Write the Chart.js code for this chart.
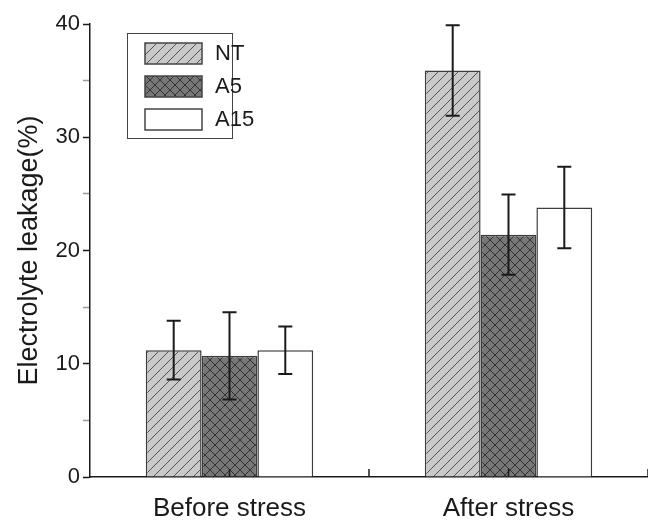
<!DOCTYPE html>
<html>
<head>
<meta charset="utf-8">
<script src="https://cdn.jsdelivr.net/npm/chart.js@4/dist/chart.umd.min.js"></script>
<style>
  html, body { margin: 0; padding: 0; background: #fff; }
  #wrap { width: 648px; height: 520px; }
</style>
</head>
<body>
<div id="wrap"><canvas id="leakChart"></canvas></div>
<script>
const categories = ['Before stress', 'After stress'];
const seriesNames = ['NT', 'A5', 'A15'];
const ntValues = [11.2, 35.9];
const ntErrors = [2.6, 4.0];
const a5Values = [10.7, 21.4];
const a5Errors = [3.85, 3.55];
const a15Values = [11.2, 23.8];
const a15Errors = [2.1, 3.6];
const yTicks = [0, 10, 20, 30, 40];

const FONT = '"Liberation Sans", Arial, sans-serif';
const INK = '#1a1a1a';

function makePattern(fill, line, cross){
    const c = document.createElement('canvas');
    c.width = 10; c.height = 10;
    const g = c.getContext('2d');
    g.fillStyle = fill;
    g.fillRect(0, 0, 10, 10);
    g.strokeStyle = line;
    g.lineWidth = 1;
    g.beginPath();
    g.moveTo(-1, 11); g.lineTo(11, -1);
    g.moveTo(-1, 1); g.lineTo(1, -1);
    g.moveTo(9, 11); g.lineTo(11, 9);
    if(cross){
        g.moveTo(-1, -1); g.lineTo(11, 11);
        g.moveTo(-1, 9); g.lineTo(1, 11);
        g.moveTo(9, -1); g.lineTo(11, 1);
    }
    g.stroke();
    return g.createPattern(c, 'repeat');
}

const ctx = document.getElementById('leakChart').getContext('2d');
const fills = [makePattern('#c9c9c9', '#555555', false), makePattern('#777777', '#333333', true), '#ffffff'];
const errors = [ntErrors, a5Errors, a15Errors];

// error bars, inward x ticks and the boxed legend
const extras = {
    id: 'extras',
    afterDatasetsDraw(chart){
        const g = chart.ctx;
        const ys = chart.scales.y, xs = chart.scales.x;
        const area = chart.chartArea;
        g.save();
        g.strokeStyle = INK;
        g.lineWidth = 2;
        chart.data.datasets.forEach((ds, i) => {
            chart.getDatasetMeta(i).data.forEach((bar, j) => {
                const v = ds.data[j], e = errors[i][j];
                const top = ys.getPixelForValue(v + e), bot = ys.getPixelForValue(v - e);
                g.beginPath();
                g.moveTo(bar.x, top); g.lineTo(bar.x, bot);
                g.moveTo(bar.x - 7, top); g.lineTo(bar.x + 7, top);
                g.moveTo(bar.x - 7, bot); g.lineTo(bar.x + 7, bot);
                g.stroke();
            });
        });

        // x ticks point up into the plot, at centres and at boundaries
        g.lineWidth = 1.5;
        const half = (xs.getPixelForValue(1) - xs.getPixelForValue(0)) / 2;
        categories.forEach((c, i) => {
            const cx = xs.getPixelForValue(i);
            [cx, cx + half].forEach(px => {
                g.beginPath();
                g.moveTo(px, area.bottom); g.lineTo(px, area.bottom - 8);
                g.stroke();
            });
        });

        // legend
        const lx = area.left + 37, ly = area.top + 9;
        g.strokeStyle = '#444';
        g.lineWidth = 1;
        g.strokeRect(lx + 0.5, ly + 0.5, 105, 105);
        g.font = '22px ' + FONT;
        g.textBaseline = 'middle';
        chart.data.datasets.forEach((ds, i) => {
            const sy = ly + 10 + i * 33;
            g.fillStyle = ds.backgroundColor;
            g.fillRect(lx + 18, sy, 57, 21);
            g.strokeStyle = '#444';
            g.lineWidth = 1.5;
            g.strokeRect(lx + 18, sy, 57, 21);
            g.fillStyle = INK;
            g.fillText(ds.label, lx + 88, sy + 11);
        });
        g.restore();
    }
};

new Chart(ctx, {
    type: 'bar',
    data: {
        labels: categories,
        datasets: [
            { label: seriesNames[0], data: ntValues, backgroundColor: fills[0] },
            { label: seriesNames[1], data: a5Values, backgroundColor: fills[1] },
            { label: seriesNames[2], data: a15Values, backgroundColor: fills[2] }
        ].map(d => Object.assign(d, { borderColor: '#3c3c3c', borderWidth: 1.5, categoryPercentage: 0.6, barPercentage: 1.0 }))
    },
    options: {
        responsive: true,
        maintainAspectRatio: false,
        animation: false,
        layout: { padding: { top: 24, right: 0, left: 0, bottom: 0 } },
        plugins: { legend: { display: false }, tooltip: { enabled: false } },
        scales: {
            x: {
                grid: { display: false, drawTicks: false },
                border: { display: true, color: INK, width: 1.5 },
                ticks: { color: INK, font: { family: FONT, size: 26 }, padding: 16 },
                afterFit(s){ s.height = 43; }
            },
            y: {
                min: yTicks[0],
                max: yTicks[yTicks.length - 1],
                grid: {
                    drawOnChartArea: false,
                    tickLength: 7,
                    tickColor: c => (c.tick && c.tick.value % 10 === 0) ? INK : '#9a9a9a',
                    tickWidth: 1.5
                },
                border: { display: true, color: INK, width: 1.5 },
                ticks: {
                    stepSize: 5,
                    color: INK,
                    padding: 3,
                    font: { family: FONT, size: 22 },
                    callback: v => yTicks.includes(v) ? v : ''
                },
                title: { display: true, text: 'Electrolyte leakage(%)', color: INK, font: { family: FONT, size: 27 }, padding: { top: 13, bottom: 0 } },
                afterFit(s){ s.width = 90; }
            }
        }
    },
    plugins: [extras]
});
</script>
</body>
</html>
